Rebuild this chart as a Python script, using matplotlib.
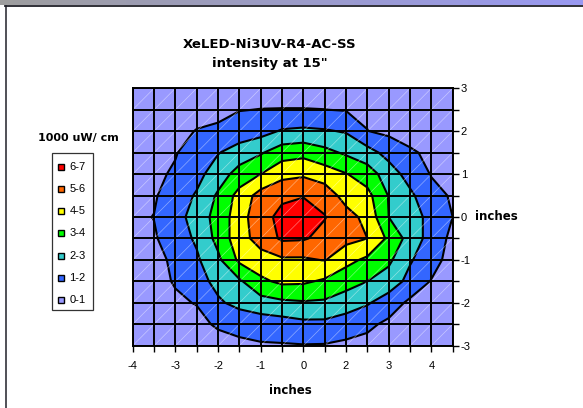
import numpy as np
import matplotlib
matplotlib.use("Agg")
import matplotlib.pyplot as plt
from matplotlib.patches import Rectangle
from matplotlib.lines import Line2D
from matplotlib.collections import LineCollection

# --- data --------------------------------------------------------------
# rows go from y = +3 (top) to y = -3 (bottom), 16 columns left to right
y_vals = [3, 2.5, 2, 1.5, 1, 0.5, 0, -0.5, -1, -1.5, -2, -2.5, -3]
x_tick_labels = ["-4", "-3", "-2", "-1", "0", "2", "3", "4"]   # every 2nd column

intensity = [
    [0.20, 0.30, 0.40, 0.45, 0.50, 0.55, 0.60, 0.62, 0.62, 0.60, 0.55, 0.50, 0.45, 0.40, 0.30, 0.20],
    [0.30, 0.45, 0.60, 0.75, 0.85, 0.97, 1.02, 1.03, 1.03, 1.01, 0.95, 0.80, 0.65, 0.50, 0.40, 0.30],
    [0.45, 0.60, 0.80, 1.03, 1.10, 1.45, 1.65, 2.10, 2.20, 2.10, 1.92, 1.02, 0.80, 0.70, 0.55, 0.40],
    [0.55, 0.80, 0.95, 1.40, 1.95, 2.45, 2.90, 3.55, 3.70, 3.30, 2.85, 2.40, 1.65, 1.10, 0.85, 0.55],
    [0.70, 0.85, 1.10, 1.70, 2.50, 3.40, 4.00, 4.70, 4.85, 4.50, 4.05, 3.50, 2.50, 1.60, 0.95, 0.70],
    [0.80, 0.90, 1.50, 2.10, 3.15, 4.35, 5.40, 5.80, 5.95, 5.60, 4.60, 4.30, 2.95, 2.20, 1.30, 0.90],
    [0.85, 1.02, 1.50, 2.55, 3.30, 4.60, 5.60, 6.30, 6.50, 6.05, 5.40, 4.70, 3.00, 2.60, 1.60, 1.00],
    [0.80, 0.90, 1.50, 2.15, 3.30, 4.60, 5.40, 6.15, 6.10, 5.70, 5.30, 5.00, 3.80, 2.60, 1.60, 0.75],
    [0.70, 0.85, 1.10, 1.85, 2.80, 4.20, 4.60, 4.85, 4.85, 5.05, 4.30, 3.80, 3.20, 2.10, 1.40, 0.60],
    [0.60, 0.80, 1.05, 1.60, 2.30, 2.85, 3.80, 4.20, 4.15, 3.85, 3.40, 3.00, 2.55, 1.70, 0.95, 0.50],
    [0.50, 0.65, 0.90, 1.03, 1.85, 2.30, 2.60, 2.80, 2.90, 2.85, 2.50, 2.10, 1.50, 0.80, 0.60, 0.40],
    [0.40, 0.50, 0.65, 0.80, 1.10, 1.30, 1.45, 1.55, 1.75, 1.75, 1.50, 1.20, 0.80, 0.60, 0.45, 0.35],
    [0.30, 0.35, 0.45, 0.55, 0.70, 0.80, 0.90, 0.92, 0.95, 0.93, 0.80, 0.70, 0.55, 0.45, 0.35, 0.25],
]

levels = [0, 1, 2, 3, 4, 5, 6, 7]
band_labels = ["0-1", "1-2", "2-3", "3-4", "4-5", "5-6", "6-7"]
band_colors = ["#9999FF", "#3366FF", "#33CCCC", "#00FF00", "#FFFF00", "#FF6600", "#FF0000"]

W, H = 583, 408
plt.rcParams["font.family"] = ["Liberation Sans", "DejaVu Sans"]
wide_font = "DejaVu Sans"   # wider bold face, closer to the letter-spaced labels

fig = plt.figure(figsize=(W / 100, H / 100), dpi=100)
fig.patch.set_facecolor("white")


def fx(px):
    return px / W


def fy(py):
    return 1 - py / H


# window strip at the very top + chart frame
strip = fig.add_axes([0, fy(5.5), 1, 5.5 / H])
grad = np.linspace(0, 1, 256)
strip_rgb = np.stack([0.62 - 0.02 * grad, 0.62 - 0.02 * grad, 0.62 + 0.33 * grad], axis=-1)[None, :, :]
strip.imshow(strip_rgb, aspect="auto", extent=[0, 1, 0, 1])
strip.axis("off")
fig.add_artist(Line2D([fx(5), 1], [fy(6), fy(6)], color="#202028", lw=1.3))
fig.add_artist(Line2D([fx(5.5), fx(5.5)], [0, fy(6)], color="#202028", lw=1.1))

# --- contour plot -------------------------------------------------------
Z = np.array(intensity)
X = np.arange(Z.shape[1])
Y = np.array(y_vals)

ax = fig.add_axes([fx(132.7), fy(345.7), fx(452.7) - fx(132.7), fy(88.3) - fy(345.7)])
ax.contourf(X, Y, Z, levels=levels, colors=band_colors, antialiased=True)
ax.contour(X, Y, Z, levels=levels[1:-1], colors="black", linewidths=1.5)

# faint white diagonals inside each cell
segs = []
for i in range(len(X) - 1):
    for j in range(len(Y) - 1):
        segs.append([(X[i], Y[j + 1]), (X[i + 1], Y[j])])
ax.add_collection(LineCollection(segs, colors="white", linewidths=0.5, alpha=0.45))

ax.set_xlim(X[0], X[-1])
ax.set_ylim(min(Y), max(Y))
ax.set_xticks(X)
ax.set_xticklabels([x_tick_labels[i // 2] if i % 2 == 0 and i // 2 < len(x_tick_labels) else "" for i in X])
ax.set_yticks(Y)
ax.set_yticklabels([str(int(v)) if float(v).is_integer() else "" for v in Y])
ax.yaxis.tick_right()
ax.tick_params(axis="both", direction="out", length=4.3, width=1.0, labelsize=8, colors="black")
ax.tick_params(axis="x", pad=6.5)
ax.tick_params(axis="y", pad=1.5)
ax.grid(True, color="black", linewidth=1.4)
ax.set_axisbelow(False)
for sp in ax.spines.values():
    sp.set_linewidth(1.4)

# titles and axis labels
fig.text(fx(270), fy(45), "XeLED-Ni3UV-R4-AC-SS", ha="center", va="center",
         fontsize=9.5, fontweight="bold", family=wide_font)
fig.text(fx(270), fy(63), 'intensity at 15"', ha="center", va="center",
         fontsize=9.5, fontweight="bold", family=wide_font)
fig.text(fx(290.5), fy(390.5), "inches", ha="center", va="center",
         fontsize=8.5, fontweight="bold", family=wide_font)
fig.text(fx(475), fy(216.7), "inches", ha="left", va="center",
         fontsize=8.5, fontweight="bold", family=wide_font)

# --- legend ---------------------------------------------------------------
fig.text(fx(78), fy(138), "1000 uW/ cm", ha="center", va="center",
         fontsize=8, fontweight="bold", family=wide_font)
fig.add_artist(Rectangle((fx(51.7), fy(310)), fx(92.7) - fx(51.7), fy(153) - fy(310),
                         transform=fig.transFigure, facecolor="white", edgecolor="#333333", lw=0.9))
entry_y = np.linspace(166.7, 300, len(band_labels))
for k, (lab, col) in enumerate(zip(band_labels[::-1], band_colors[::-1])):
    ey = entry_y[k]
    fig.add_artist(Rectangle((fx(57.7), fy(ey + 3)), 6 / W, 6 / H, transform=fig.transFigure,
                             facecolor=col, edgecolor="black", lw=1.0))
    fig.text(fx(69.5), fy(ey), lab, ha="left", va="center", fontsize=8)

fig.savefig("out.png", dpi=100)
